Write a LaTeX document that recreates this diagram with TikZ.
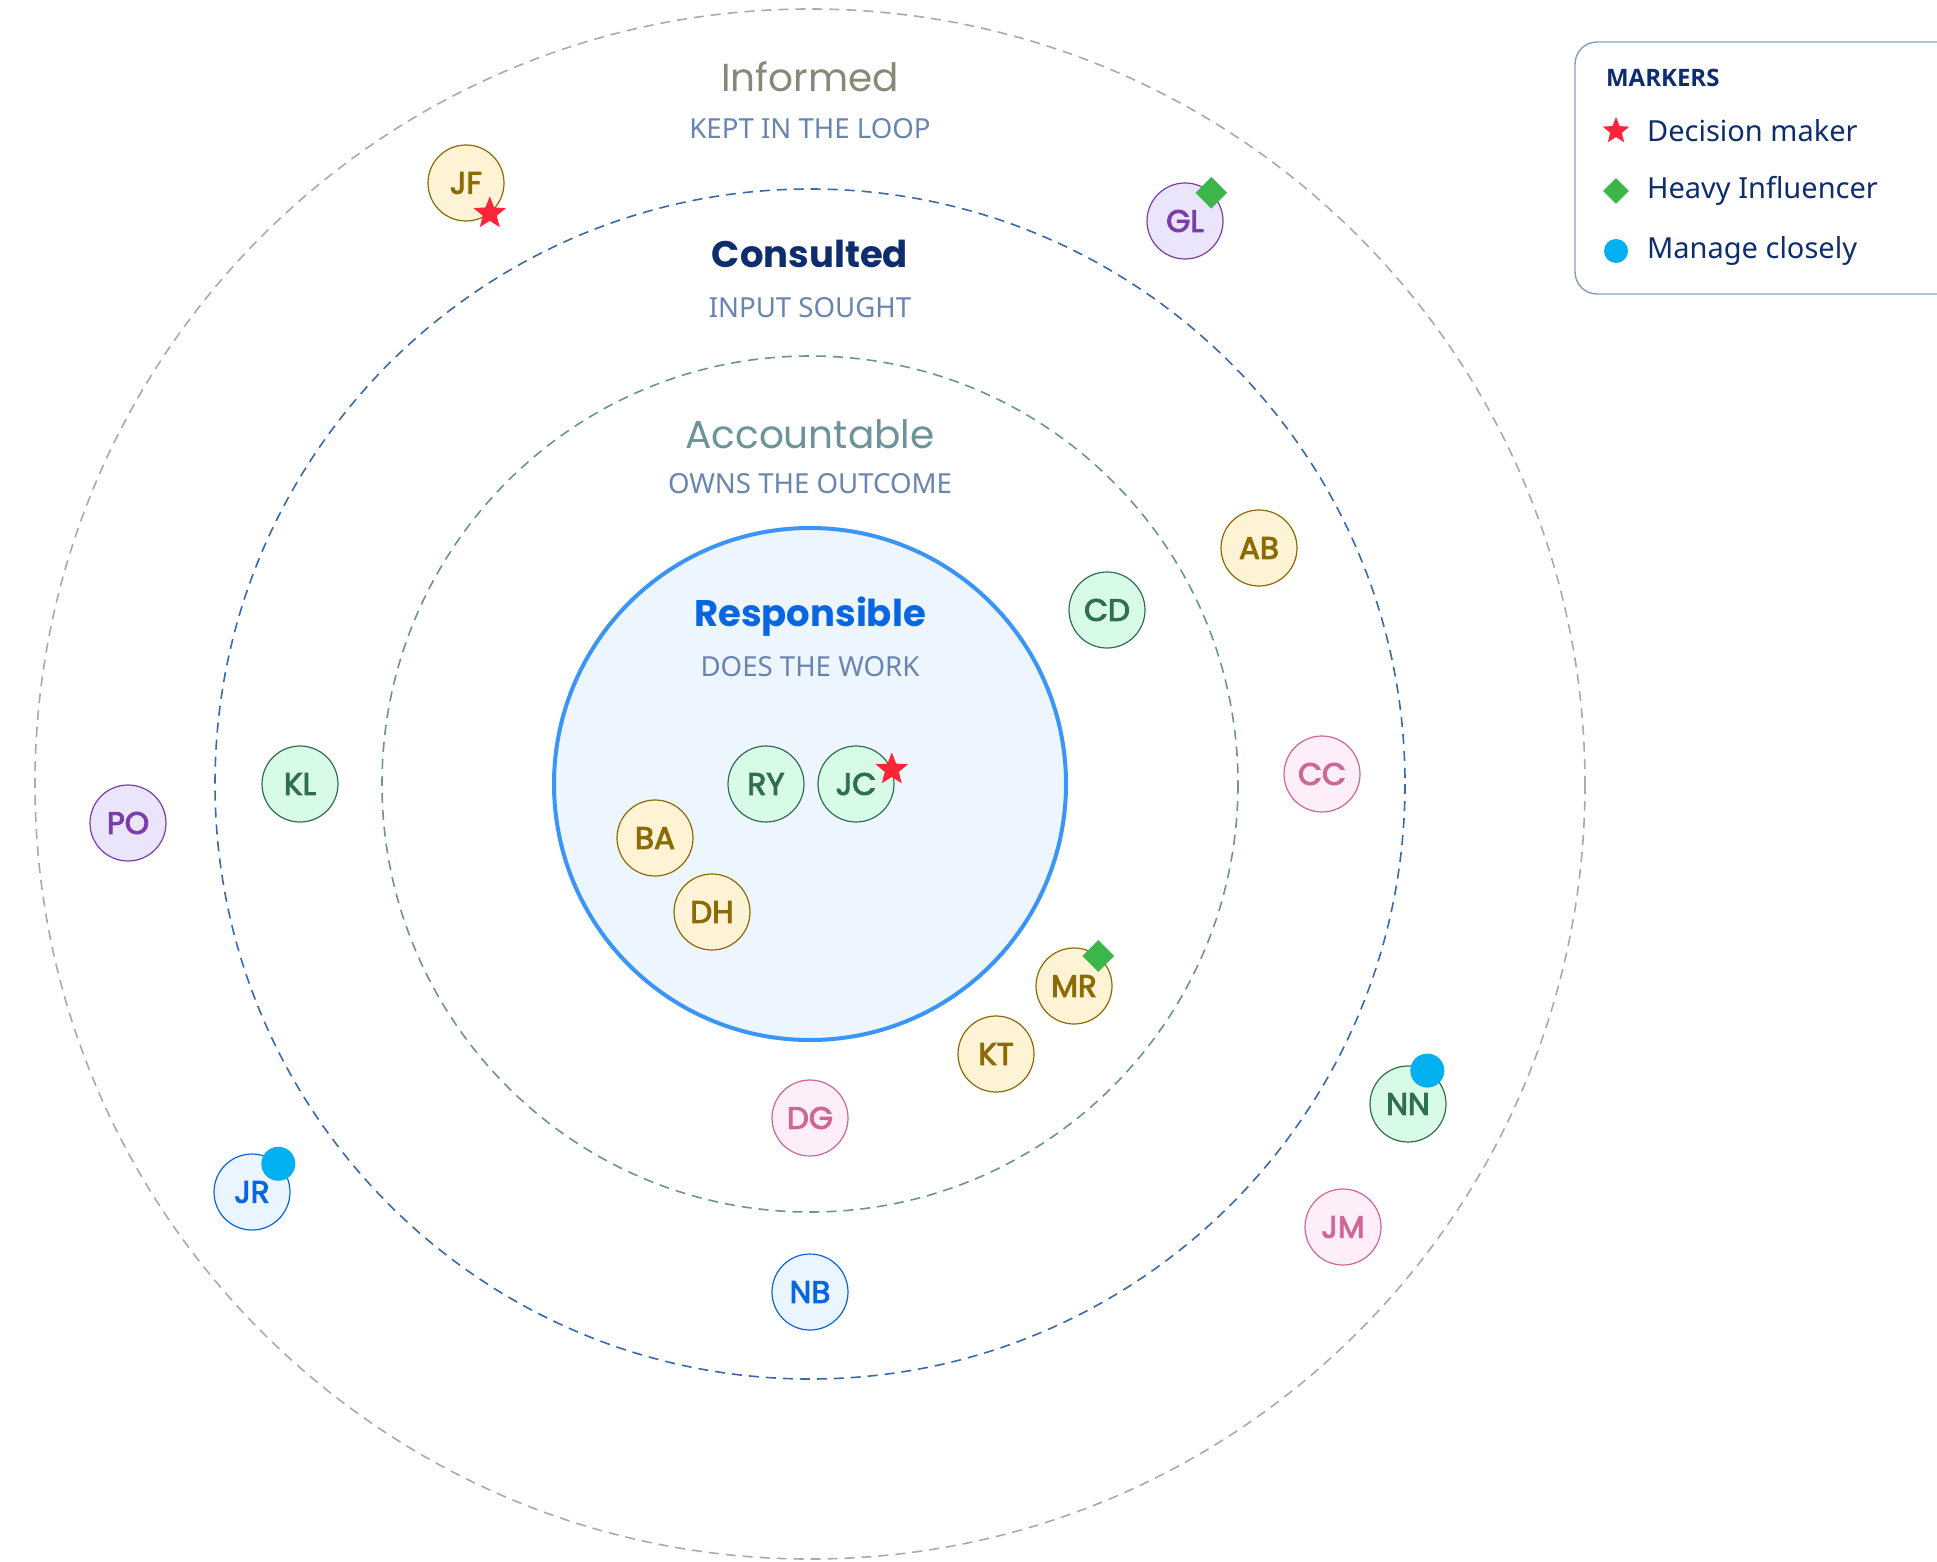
\documentclass[tikz,border=0pt]{standalone}
\usepackage{fontspec}
\setmainfont{Noto Sans}
\newfontfamily\roundfont{Poppins}
\newfontfamily\initfont[FakeBold=3]{Poppins}
\newfontfamily\headfont{Open Sans}
\usetikzlibrary{shapes.geometric}
\definecolor{Y}{RGB}{255,243,214}
\definecolor{Yd}{RGB}{140,106,4}
\definecolor{G}{RGB}{216,251,232}
\definecolor{Gd}{RGB}{48,110,80}
\definecolor{P}{RGB}{235,229,252}
\definecolor{Pd}{RGB}{124,60,170}
\definecolor{K}{RGB}{253,238,250}
\definecolor{Kd}{RGB}{206,102,152}
\definecolor{B}{RGB}{234,245,255}
\definecolor{Bd}{RGB}{10,102,224}
\definecolor{navy}{RGB}{13,45,110}
\definecolor{slate}{RGB}{104,132,176}
\definecolor{ringI}{RGB}{170,170,170}
\definecolor{ringC}{RGB}{58,106,168}
\definecolor{ringA}{RGB}{108,147,153}
\definecolor{ringR}{RGB}{59,149,247}
\definecolor{fillR}{RGB}{237,245,255}
\definecolor{titleI}{RGB}{136,136,118}
\definecolor{starred}{RGB}{255,36,56}
\definecolor{diamgreen}{RGB}{60,181,74}
\definecolor{dotblue}{RGB}{0,176,240}
\tikzset{
  person/.style={circle, minimum size=38pt, inner sep=0pt, line width=0.6pt, font=\initfont\fontsize{15.5}{15.5}\selectfont},
  ring/.style={line width=0.8pt, dash pattern=on 5pt off 3.5pt},
  ringtitle/.style={font=\roundfont\fontsize{19.5}{20}\selectfont},
  boldtitle/.style={font=\roundfont\bfseries\fontsize{18.5}{20}\selectfont},
  ringsub/.style={text=slate, font=\fontsize{13.8}{14}\selectfont},
  decider/.style={star, star points=5, star point ratio=2.3, fill=starred, inner sep=0pt, minimum size=17pt},
  influencer/.style={diamond, fill=diamgreen, inner sep=0pt, minimum size=16pt},
  closely/.style={circle, fill=dotblue, inner sep=0pt, minimum size=17pt},
  legendtext/.style={anchor=west, text=navy, font=\fontsize{14.5}{15}\selectfont}
}
\newcommand{\person}[4]{\node[person, fill=#4, draw=#4d, text=#4d] (#1) at (#2,#3) {#1};}

\begin{document}
\begin{tikzpicture}[x=0.5pt,y=-0.5pt]
\useasboundingbox[fill=white] (0,0) rectangle (1937,1562);
\coordinate (core) at (810,784);
\foreach \r/\c in {775/ringI,595/ringC,428/ringA}{
  \draw[ring, draw=\c] (core) circle (\r);
}
\draw[line width=2pt, draw=ringR, fill=fillR] (core) circle (256);
\node[ringtitle, text=titleI] (informed) at (810,77) {Informed};
\node[ringsub] (informedsub) at (810,129) {KEPT IN THE LOOP};
\node[boldtitle, text=navy] (consulted) at (810,254) {Consulted};
\node[ringsub] (consultedsub) at (810,308) {INPUT SOUGHT};
\node[ringtitle, text=ringA] (accountable) at (810,434) {Accountable};
\node[ringsub] (accountablesub) at (810,484) {OWNS THE OUTCOME};
\node[boldtitle, text=Bd] (responsible) at (810,617) {Responsible};
\node[ringsub] (responsiblesub) at (810,667) {DOES THE WORK};
\person{RY}{766}{784}{G}\person{JC}{856}{784}{G}\person{BA}{655}{838}{Y}\person{DH}{712}{912}{Y}
\person{CD}{1107}{610}{G}\person{MR}{1074}{986}{Y}\person{KT}{996}{1054}{Y}\person{DG}{810}{1118}{K}\person{KL}{300}{784}{G}
\person{AB}{1259}{548}{Y}\person{CC}{1322}{774}{K}\person{NN}{1408}{1104}{G}\person{NB}{810}{1292}{B}\person{JR}{252}{1192}{B}
\person{JF}{466}{183}{Y}\person{GL}{1185}{221}{P}\person{PO}{128}{823}{P}\person{JM}{1343}{1227}{K}
\node[decider] (JFstar) at (JF.-52) {};
\node[decider] (JCstar) at (JC.22) {};
\node[influencer] (GLdiam) at (GL.47) {};
\node[influencer] (MRdiam) at (MR.51) {};
\node[closely] (NNdot) at (NN.60) {};
\node[closely] (JRdot) at (JR.47) {};
\draw[draw=slate!80, line width=0.7pt, rounded corners=11pt] (1575,42) rectangle (2000,294);
\node[anchor=west, text=navy, font=\headfont\bfseries\fontsize{12}{12}\selectfont] (markers) at (1599,78) {MARKERS};
\node[decider, minimum size=14pt] (keystar) at (1616,131) {};
\node[influencer, minimum size=13pt] (keydiam) at (1616,191) {};
\node[closely, minimum size=12pt] (keydot) at (1616,251) {};
\node[legendtext] (keystartext) at (1640,131) {Decision maker};
\node[legendtext] (keydiamtext) at (1640,191) {Heavy Influencer};
\node[legendtext] (keydottext) at (1640,251) {Manage closely};
\end{tikzpicture}
\end{document}
